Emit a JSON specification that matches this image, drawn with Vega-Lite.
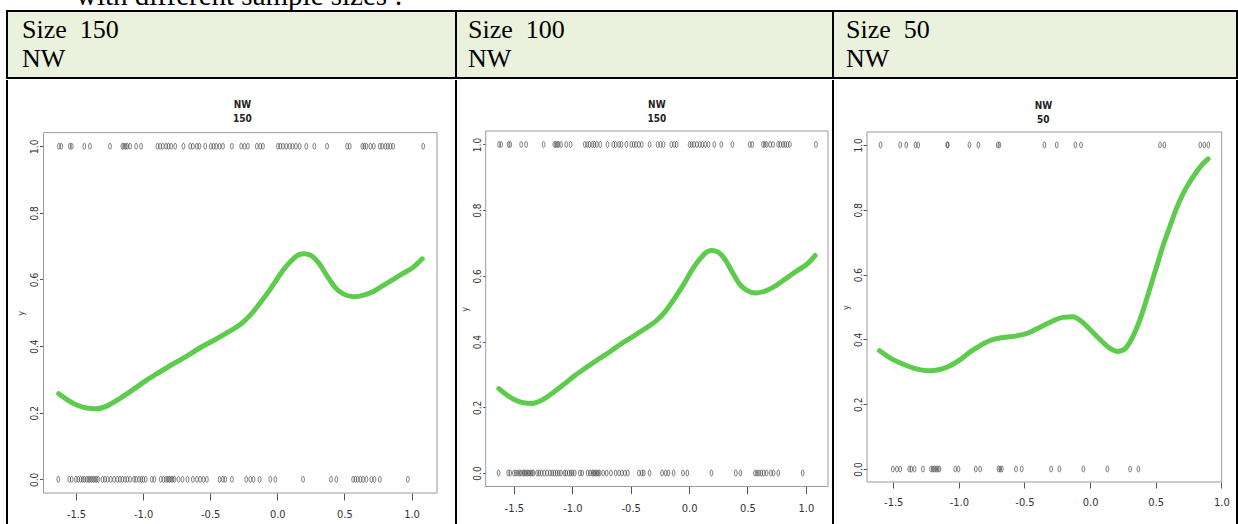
{
  "$schema": "https://vega.github.io/schema/vega-lite/v6.json",
  "padding": {"left": 6, "top": 0, "right": 0, "bottom": 0},
  "background": "white",
  "spacing": 0,
  "config": {
    "view": {"stroke": null},
    "concat": {"spacing": 0},
    "axis": {
      "labelFont": "Liberation Sans Narrow, DejaVu Sans Condensed, sans-serif",
      "titleFont": "Liberation Sans Narrow, DejaVu Sans Condensed, sans-serif",
      "labelColor": "#333",
      "tickColor": "#555",
      "titleColor": "#333",
      "titleFontWeight": "normal",
      "domain": false,
      "grid": false,
      "labelFlush": false,
      "labelOverlap": false
    }
  },
  "datasets": {
    "r150": [
      {"x": -1.627, "y": 1}, {"x": -1.610, "y": 1}, {"x": -1.545, "y": 1}, {"x": -1.532, "y": 1}, {"x": -1.438, "y": 1}, {"x": -1.396, "y": 1}, {"x": -1.246, "y": 1}, {"x": -1.154, "y": 1}, {"x": -1.142, "y": 1}, {"x": -1.129, "y": 1}, {"x": -1.117, "y": 1}, {"x": -1.097, "y": 1}, {"x": -1.052, "y": 1}, {"x": -1.015, "y": 1}, {"x": -0.893, "y": 1}, {"x": -0.873, "y": 1}, {"x": -0.853, "y": 1}, {"x": -0.828, "y": 1}, {"x": -0.811, "y": 1}, {"x": -0.791, "y": 1}, {"x": -0.761, "y": 1}, {"x": -0.699, "y": 1}, {"x": -0.649, "y": 1}, {"x": -0.629, "y": 1}, {"x": -0.599, "y": 1}, {"x": -0.580, "y": 1}, {"x": -0.537, "y": 1}, {"x": -0.495, "y": 1}, {"x": -0.475, "y": 1}, {"x": -0.455, "y": 1}, {"x": -0.430, "y": 1}, {"x": -0.405, "y": 1}, {"x": -0.338, "y": 1}, {"x": -0.269, "y": 1}, {"x": -0.244, "y": 1}, {"x": -0.219, "y": 1}, {"x": -0.152, "y": 1}, {"x": -0.127, "y": 1}, {"x": -0.107, "y": 1}, {"x": 0.005, "y": 1}, {"x": 0.022, "y": 1}, {"x": 0.042, "y": 1}, {"x": 0.067, "y": 1}, {"x": 0.092, "y": 1}, {"x": 0.114, "y": 1}, {"x": 0.139, "y": 1}, {"x": 0.166, "y": 1}, {"x": 0.216, "y": 1}, {"x": 0.276, "y": 1}, {"x": 0.371, "y": 1}, {"x": 0.520, "y": 1}, {"x": 0.540, "y": 1}, {"x": 0.634, "y": 1}, {"x": 0.649, "y": 1}, {"x": 0.664, "y": 1}, {"x": 0.694, "y": 1}, {"x": 0.719, "y": 1}, {"x": 0.764, "y": 1}, {"x": 0.781, "y": 1}, {"x": 0.806, "y": 1}, {"x": 0.823, "y": 1}, {"x": 0.843, "y": 1}, {"x": 0.863, "y": 1}, {"x": 1.087, "y": 1},
      {"x": -1.632, "y": 0}, {"x": -1.550, "y": 0}, {"x": -1.532, "y": 0}, {"x": -1.500, "y": 0}, {"x": -1.483, "y": 0}, {"x": -1.465, "y": 0}, {"x": -1.450, "y": 0}, {"x": -1.438, "y": 0}, {"x": -1.420, "y": 0}, {"x": -1.408, "y": 0}, {"x": -1.396, "y": 0}, {"x": -1.383, "y": 0}, {"x": -1.371, "y": 0}, {"x": -1.358, "y": 0}, {"x": -1.346, "y": 0}, {"x": -1.333, "y": 0}, {"x": -1.301, "y": 0}, {"x": -1.284, "y": 0}, {"x": -1.264, "y": 0}, {"x": -1.241, "y": 0}, {"x": -1.216, "y": 0}, {"x": -1.192, "y": 0}, {"x": -1.172, "y": 0}, {"x": -1.154, "y": 0}, {"x": -1.134, "y": 0}, {"x": -1.117, "y": 0}, {"x": -1.097, "y": 0}, {"x": -1.067, "y": 0}, {"x": -1.052, "y": 0}, {"x": -1.030, "y": 0}, {"x": -1.013, "y": 0}, {"x": -0.998, "y": 0}, {"x": -0.980, "y": 0}, {"x": -0.935, "y": 0}, {"x": -0.916, "y": 0}, {"x": -0.868, "y": 0}, {"x": -0.848, "y": 0}, {"x": -0.828, "y": 0}, {"x": -0.816, "y": 0}, {"x": -0.804, "y": 0}, {"x": -0.791, "y": 0}, {"x": -0.779, "y": 0}, {"x": -0.766, "y": 0}, {"x": -0.736, "y": 0}, {"x": -0.706, "y": 0}, {"x": -0.669, "y": 0}, {"x": -0.629, "y": 0}, {"x": -0.599, "y": 0}, {"x": -0.575, "y": 0}, {"x": -0.550, "y": 0}, {"x": -0.525, "y": 0}, {"x": -0.430, "y": 0}, {"x": -0.405, "y": 0}, {"x": -0.388, "y": 0}, {"x": -0.338, "y": 0}, {"x": -0.231, "y": 0}, {"x": -0.201, "y": 0}, {"x": -0.177, "y": 0}, {"x": -0.132, "y": 0}, {"x": -0.052, "y": 0}, {"x": -0.015, "y": 0}, {"x": 0.192, "y": 0}, {"x": 0.400, "y": 0}, {"x": 0.440, "y": 0}, {"x": 0.565, "y": 0}, {"x": 0.582, "y": 0}, {"x": 0.599, "y": 0}, {"x": 0.619, "y": 0}, {"x": 0.639, "y": 0}, {"x": 0.664, "y": 0}, {"x": 0.701, "y": 0}, {"x": 0.724, "y": 0}, {"x": 0.764, "y": 0}, {"x": 0.973, "y": 0}
    ],
    "c150": [
      {"x": -1.629, "y": 0.257}, {"x": -1.570, "y": 0.240}, {"x": -1.495, "y": 0.223}, {"x": -1.420, "y": 0.214}, {"x": -1.346, "y": 0.212}, {"x": -1.271, "y": 0.220}, {"x": -1.172, "y": 0.243}, {"x": -1.072, "y": 0.270}, {"x": -0.973, "y": 0.298}, {"x": -0.873, "y": 0.323}, {"x": -0.774, "y": 0.347}, {"x": -0.674, "y": 0.370}, {"x": -0.575, "y": 0.395}, {"x": -0.475, "y": 0.417}, {"x": -0.376, "y": 0.440}, {"x": -0.276, "y": 0.465}, {"x": -0.201, "y": 0.493}, {"x": -0.127, "y": 0.530}, {"x": -0.052, "y": 0.571}, {"x": 0.022, "y": 0.616}, {"x": 0.097, "y": 0.653}, {"x": 0.159, "y": 0.674}, {"x": 0.197, "y": 0.677}, {"x": 0.246, "y": 0.673}, {"x": 0.308, "y": 0.650}, {"x": 0.371, "y": 0.611}, {"x": 0.433, "y": 0.575}, {"x": 0.495, "y": 0.556}, {"x": 0.570, "y": 0.548}, {"x": 0.644, "y": 0.553}, {"x": 0.719, "y": 0.565}, {"x": 0.818, "y": 0.589}, {"x": 0.918, "y": 0.614}, {"x": 1.017, "y": 0.638}, {"x": 1.080, "y": 0.662}
    ],
    "r50": [
      {"x": -1.597, "y": 1}, {"x": -1.447, "y": 1}, {"x": -1.401, "y": 1}, {"x": -1.330, "y": 1}, {"x": -1.310, "y": 1}, {"x": -1.089, "y": 1}, {"x": -1.084, "y": 1}, {"x": -0.919, "y": 1}, {"x": -0.851, "y": 1}, {"x": -0.703, "y": 1}, {"x": -0.691, "y": 1}, {"x": -0.348, "y": 1}, {"x": -0.254, "y": 1}, {"x": -0.112, "y": 1}, {"x": -0.069, "y": 1}, {"x": 0.533, "y": 1}, {"x": 0.566, "y": 1}, {"x": 0.840, "y": 1}, {"x": 0.871, "y": 1}, {"x": 0.901, "y": 1},
      {"x": -1.503, "y": 0}, {"x": -1.472, "y": 0}, {"x": -1.447, "y": 0}, {"x": -1.378, "y": 0}, {"x": -1.363, "y": 0}, {"x": -1.338, "y": 0}, {"x": -1.274, "y": 0}, {"x": -1.211, "y": 0}, {"x": -1.198, "y": 0}, {"x": -1.186, "y": 0}, {"x": -1.173, "y": 0}, {"x": -1.160, "y": 0}, {"x": -1.148, "y": 0}, {"x": -1.028, "y": 0}, {"x": -1.003, "y": 0}, {"x": -0.871, "y": 0}, {"x": -0.838, "y": 0}, {"x": -0.698, "y": 0}, {"x": -0.685, "y": 0}, {"x": -0.673, "y": 0}, {"x": -0.564, "y": 0}, {"x": -0.521, "y": 0}, {"x": -0.297, "y": 0}, {"x": -0.234, "y": 0}, {"x": -0.051, "y": 0}, {"x": 0.132, "y": 0}, {"x": 0.305, "y": 0}, {"x": 0.368, "y": 0}
    ],
    "c50": [
      {"x": -1.604, "y": 0.365}, {"x": -1.528, "y": 0.344}, {"x": -1.426, "y": 0.324}, {"x": -1.325, "y": 0.309}, {"x": -1.223, "y": 0.303}, {"x": -1.147, "y": 0.307}, {"x": -1.071, "y": 0.318}, {"x": -0.995, "y": 0.336}, {"x": -0.918, "y": 0.360}, {"x": -0.842, "y": 0.380}, {"x": -0.766, "y": 0.396}, {"x": -0.664, "y": 0.406}, {"x": -0.562, "y": 0.411}, {"x": -0.486, "y": 0.418}, {"x": -0.410, "y": 0.432}, {"x": -0.309, "y": 0.452}, {"x": -0.207, "y": 0.468}, {"x": -0.130, "y": 0.470}, {"x": -0.080, "y": 0.460}, {"x": -0.004, "y": 0.432}, {"x": 0.072, "y": 0.401}, {"x": 0.149, "y": 0.373}, {"x": 0.213, "y": 0.363}, {"x": 0.263, "y": 0.370}, {"x": 0.301, "y": 0.390}, {"x": 0.352, "y": 0.432}, {"x": 0.403, "y": 0.488}, {"x": 0.454, "y": 0.555}, {"x": 0.505, "y": 0.622}, {"x": 0.556, "y": 0.689}, {"x": 0.606, "y": 0.746}, {"x": 0.657, "y": 0.803}, {"x": 0.708, "y": 0.849}, {"x": 0.758, "y": 0.885}, {"x": 0.809, "y": 0.916}, {"x": 0.860, "y": 0.942}, {"x": 0.899, "y": 0.957}
    ]
  },
  "vconcat": [
    {
      "width": 1230,
      "height": 10,
      "data": {"values": [{"t": "with different sample sizes :"}]},
      "mark": {"type": "text", "clip": true, "font": "Liberation Serif, Times New Roman, serif", "fontSize": 29, "align": "left", "baseline": "alphabetic", "color": "black"},
      "encoding": {"text": {"field": "t"}, "x": {"value": 69}, "y": {"value": 5}}
    },
    {
      "bounds": "flush",
      "spacing": 0,
      "hconcat": [
        {
          "width": 449, "height": 67,
          "view": {"fill": "#EAF1DD", "stroke": "black", "strokeWidth": 2},
          "data": {"values": [{"label": "Size\u00a0\u00a0150\nNW"}]},
          "mark": {"type": "text", "font": "Liberation Serif, Times New Roman, serif", "fontSize": 26, "align": "left", "baseline": "alphabetic", "lineBreak": "\n", "lineHeight": 28.4, "color": "black"},
          "encoding": {"text": {"field": "label"}, "x": {"value": 15}, "y": {"value": 27.3}}
        },
        {
          "width": 377, "height": 67,
          "view": {"fill": "#EAF1DD", "stroke": "black", "strokeWidth": 2},
          "data": {"values": [{"label": "Size\u00a0\u00a0100\nNW"}]},
          "mark": {"type": "text", "font": "Liberation Serif, Times New Roman, serif", "fontSize": 26, "align": "left", "baseline": "alphabetic", "lineBreak": "\n", "lineHeight": 28.4, "color": "black"},
          "encoding": {"text": {"field": "label"}, "x": {"value": 12}, "y": {"value": 27.3}}
        },
        {
          "width": 404, "height": 67,
          "view": {"fill": "#EAF1DD", "stroke": "black", "strokeWidth": 2},
          "data": {"values": [{"label": "Size\u00a0\u00a050\nNW"}]},
          "mark": {"type": "text", "font": "Liberation Serif, Times New Roman, serif", "fontSize": 26, "align": "left", "baseline": "alphabetic", "lineBreak": "\n", "lineHeight": 28.4, "color": "black"},
          "encoding": {"text": {"field": "label"}, "x": {"value": 13}, "y": {"value": 27.3}}
        }
      ]
    },
    {
      "bounds": "flush",
      "spacing": 0,
      "hconcat": [
        {
          "width": 449, "height": 445,
          "layer": [
            {"data": {"values": [{}]}, "mark": {"type": "rule", "color": "black", "strokeWidth": 2}, "encoding": {"x": {"value": 0}, "y": {"value": 0}, "y2": {"value": 445}}},
            {"data": {"values": [{}]}, "mark": {"type": "rule", "color": "black", "strokeWidth": 2}, "encoding": {"x": {"value": 449}, "y": {"value": 0}, "y2": {"value": 445}}},
            {
              "data": {"name": "r150"},
              "mark": {"type": "point", "shape": "M0,-1A0.45,1,0,1,1,0,1A0.45,1,0,1,1,0,-1Z", "size": 36, "filled": false, "color": "#444", "strokeWidth": 0.7, "opacity": 1},
              "encoding": {
                "x": {"field": "x", "type": "quantitative", "scale": {"domain": [-1.742, 1.19], "range": [36.5, 430], "nice": false, "zero": false},
                  "axis": {"orient": "bottom", "offset": -32, "values": [-1.5, -1, -0.5, 0, 0.5, 1], "labelExpr": "replace(format(datum.value, '.1f'), '\u2212', '-')", "tickSize": 7, "labelFontSize": 11, "labelPadding": 8, "title": null}},
                "y": {"field": "y", "type": "quantitative", "scale": {"domain": [-0.041, 1.041], "range": [413, 52.6], "nice": false, "zero": false},
                  "axis": {"orient": "left", "offset": -36.5, "values": [0, 0.2, 0.4, 0.6, 0.8, 1], "labelExpr": "format(datum.value, '.1f')", "labelAngle": 270, "labelAlign": "center", "labelBaseline": "alphabetic", "tickSize": 4, "labelFontSize": 10, "labelPadding": 2.5, "title": "y", "titleFontSize": 9, "titlePadding": 4}}
              }
            },
            {"data": {"values": [{}]}, "mark": {"type": "rect", "filled": false, "color": "#9a9a9a", "strokeWidth": 1}, "encoding": {"x": {"datum": -1.742, "type": "quantitative"}, "x2": {"datum": 1.19}, "y": {"datum": -0.041, "type": "quantitative"}, "y2": {"datum": 1.041}}},
            {"data": {"name": "c150"}, "mark": {"type": "line", "color": "#5dcc4c", "strokeWidth": 5, "strokeCap": "round", "strokeJoin": "round", "interpolate": "monotone"}, "encoding": {"x": {"field": "x", "type": "quantitative"}, "y": {"field": "y", "type": "quantitative"}}},
            {"data": {"values": [{"t": "NW\n150"}]}, "mark": {"type": "text", "font": "Liberation Sans Narrow, DejaVu Sans Condensed, sans-serif", "fontSize": 10, "fontWeight": "bold", "lineBreak": "\n", "lineHeight": 14.5, "baseline": "middle", "align": "center", "color": "#222"}, "encoding": {"text": {"field": "t"}, "x": {"datum": -0.26, "type": "quantitative"}, "y": {"datum": 1.125, "type": "quantitative"}}}
          ]
        },
        {
          "width": 377, "height": 445,
          "layer": [
            {"data": {"values": [{}]}, "mark": {"type": "rule", "color": "black", "strokeWidth": 2}, "encoding": {"x": {"value": 0}, "y": {"value": 0}, "y2": {"value": 445}}},
            {"data": {"values": [{}]}, "mark": {"type": "rule", "color": "black", "strokeWidth": 2}, "encoding": {"x": {"value": 377}, "y": {"value": 0}, "y2": {"value": 445}}},
            {
              "data": {"name": "r150"},
              "mark": {"type": "point", "shape": "M0,-1A0.45,1,0,1,1,0,1A0.45,1,0,1,1,0,-1Z", "size": 36, "filled": false, "color": "#444", "strokeWidth": 0.7, "opacity": 1},
              "encoding": {
                "x": {"field": "x", "type": "quantitative", "scale": {"domain": [-1.742, 1.19], "range": [29.7, 372], "nice": false, "zero": false},
                  "axis": {"orient": "bottom", "offset": -38.5, "values": [-1.5, -1, -0.5, 0, 0.5, 1], "labelExpr": "replace(format(datum.value, '.1f'), '\u2212', '-')", "tickSize": 7, "labelFontSize": 11, "labelPadding": 9, "title": null}},
                "y": {"field": "y", "type": "quantitative", "scale": {"domain": [-0.041, 1.041], "range": [406.5, 51], "nice": false, "zero": false},
                  "axis": {"orient": "left", "offset": -29.7, "values": [0, 0.2, 0.4, 0.6, 0.8, 1], "labelExpr": "format(datum.value, '.1f')", "labelAngle": 270, "labelAlign": "center", "labelBaseline": "alphabetic", "tickSize": 3, "labelFontSize": 10, "labelPadding": 2, "title": "y", "titleFontSize": 9, "titlePadding": 3}}
              }
            },
            {"data": {"values": [{}]}, "mark": {"type": "rect", "filled": false, "color": "#9a9a9a", "strokeWidth": 1}, "encoding": {"x": {"datum": -1.742, "type": "quantitative"}, "x2": {"datum": 1.19}, "y": {"datum": -0.041, "type": "quantitative"}, "y2": {"datum": 1.041}}},
            {"data": {"name": "c150"}, "mark": {"type": "line", "color": "#5dcc4c", "strokeWidth": 5, "strokeCap": "round", "strokeJoin": "round", "interpolate": "monotone"}, "encoding": {"x": {"field": "x", "type": "quantitative"}, "y": {"field": "y", "type": "quantitative"}}},
            {"data": {"values": [{"t": "NW\n150"}]}, "mark": {"type": "text", "font": "Liberation Sans Narrow, DejaVu Sans Condensed, sans-serif", "fontSize": 10, "fontWeight": "bold", "lineBreak": "\n", "lineHeight": 14.5, "baseline": "middle", "align": "center", "color": "#222"}, "encoding": {"text": {"field": "t"}, "x": {"datum": -0.276, "type": "quantitative"}, "y": {"datum": 1.121, "type": "quantitative"}}}
          ]
        },
        {
          "width": 404, "height": 445,
          "layer": [
            {"data": {"values": [{}]}, "mark": {"type": "rule", "color": "black", "strokeWidth": 2}, "encoding": {"x": {"value": 0}, "y": {"value": 0}, "y2": {"value": 445}}},
            {"data": {"values": [{}]}, "mark": {"type": "rule", "color": "black", "strokeWidth": 2}, "encoding": {"x": {"value": 404}, "y": {"value": 0}, "y2": {"value": 445}}},
            {
              "data": {"name": "r50"},
              "mark": {"type": "point", "shape": "M0,-1A0.45,1,0,1,1,0,1A0.45,1,0,1,1,0,-1Z", "size": 36, "filled": false, "color": "#444", "strokeWidth": 0.7, "opacity": 1},
              "encoding": {
                "x": {"field": "x", "type": "quantitative", "scale": {"domain": [-1.70, 1.003], "range": [34, 388.7], "nice": false, "zero": false},
                  "axis": {"orient": "bottom", "offset": -43, "values": [-1.5, -1, -0.5, 0, 0.5, 1], "labelExpr": "replace(format(datum.value, '.1f'), '\u2212', '-')", "tickSize": 6, "labelFontSize": 11, "labelPadding": 8.5, "title": null}},
                "y": {"field": "y", "type": "quantitative", "scale": {"domain": [-0.04, 1.04], "range": [402, 52], "nice": false, "zero": false},
                  "axis": {"orient": "left", "offset": -34, "values": [0, 0.2, 0.4, 0.6, 0.8, 1], "labelExpr": "format(datum.value, '.1f')", "labelAngle": 270, "labelAlign": "center", "labelBaseline": "alphabetic", "tickSize": 4, "labelFontSize": 10, "labelPadding": 2, "title": "y", "titleFontSize": 9, "titlePadding": 3}}
              }
            },
            {"data": {"values": [{}]}, "mark": {"type": "rect", "filled": false, "color": "#9a9a9a", "strokeWidth": 1}, "encoding": {"x": {"datum": -1.70, "type": "quantitative"}, "x2": {"datum": 1.003}, "y": {"datum": -0.04, "type": "quantitative"}, "y2": {"datum": 1.04}}},
            {"data": {"name": "c50"}, "mark": {"type": "line", "color": "#5dcc4c", "strokeWidth": 5, "strokeCap": "round", "strokeJoin": "round", "interpolate": "monotone"}, "encoding": {"x": {"field": "x", "type": "quantitative"}, "y": {"field": "y", "type": "quantitative"}}},
            {"data": {"values": [{"t": "NW\n50"}]}, "mark": {"type": "text", "font": "Liberation Sans Narrow, DejaVu Sans Condensed, sans-serif", "fontSize": 10, "fontWeight": "bold", "lineBreak": "\n", "lineHeight": 14.5, "baseline": "middle", "align": "center", "color": "#222"}, "encoding": {"text": {"field": "t"}, "x": {"datum": -0.356, "type": "quantitative"}, "y": {"datum": 1.121, "type": "quantitative"}}}
          ]
        }
      ]
    }
  ]
}
